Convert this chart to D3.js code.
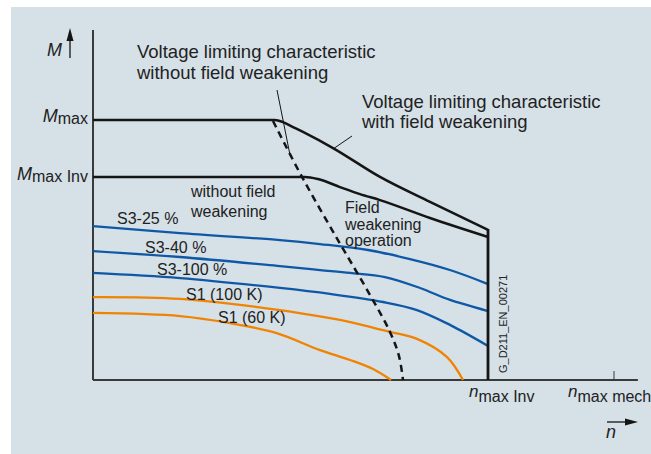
<!DOCTYPE html>
<html>
<head>
<meta charset="utf-8">
<script src="https://cdn.jsdelivr.net/npm/d3@7"></script>
<style>
  html, body { margin: 0; padding: 0; background: #fff; }
  svg { display: block; font-family: "Liberation Sans", Arial, sans-serif; }
</style>
</head>
<body>
<div id="chart"></div>
<script>
// speed n (rpm-like units) and torque M (% of Mmax)
const N_MAX_INV  = 4549;
const N_MAX_MECH = 6000;
const M_MAX      = 100;
const M_MAX_INV  = 78.1;

const fwN = [0, 2096, 2188, 2303, 2418, 2764, 3305, 3881, 4549];
const fwM = [100, 100, 99.2, 97.3, 95.4, 89.2, 78.1, 68.5, 57.7];

const invN = [0, 2441, 2591, 2844, 3075, 3305, 3881, 4549];
const invM = [78.1, 78.1, 77.3, 74.2, 71.5, 69.2, 62.3, 55.0];

const noFwN = [2073, 2407, 2821, 3190, 3420, 3524, 3570];
const noFwM = [99.6, 78.1, 53.8, 32.7, 18.5, 9.2, 0];

const s325N  = [0, 1002, 2153, 2614, 3167, 3651, 4111, 4549];
const s325M  = [59.2, 56.5, 53.8, 52.3, 50.0, 46.5, 42.3, 36.9];
const s340N  = [0, 1002, 2153, 2614, 2960, 3363, 3766, 4111, 4549];
const s340M  = [49.6, 47.3, 43.8, 42.3, 41.2, 39.6, 35.4, 30.8, 26.5];
const s3100N = [0, 1002, 2153, 2729, 3340, 3731, 4111, 4549];
const s3100M = [41.2, 39.2, 35.4, 33.1, 30.0, 26.9, 21.2, 13.1];
const s1100N = [0, 1002, 2153, 2729, 2960, 3420, 3731, 4077, 4261];
const s1100M = [31.9, 31.2, 26.9, 23.8, 22.3, 18.5, 15.8, 8.8, 0];
const s160N  = [0, 1002, 1578, 2107, 2614, 2960, 3225, 3432];
const s160M  = [25.8, 24.6, 21.9, 18.1, 11.5, 7.7, 4.2, 0];

const W = 651, H = 454;
const BLUE = "#0f58a6", ORANGE = "#f08300", INK = "#151515", TXT = "#222";

const x = d3.scaleLinear().domain([0, N_MAX_MECH]).range([93, 614]);
const y = d3.scaleLinear().domain([0, M_MAX]).range([380, 120]);

const zip = (ns, ms) => ns.map((n, i) => [n, ms[i]]);

const svg = d3.select("#chart").append("svg")
  .attr("width", W).attr("height", H)
  .attr("viewBox", [0, 0, W, H]);

svg.append("rect")
  .attr("x", 11).attr("y", 7)
  .attr("width", W - 11).attr("height", H - 7)
  .attr("fill", "#d5e0e7");

const line = d3.line()
  .x(d => x(d[0])).y(d => y(d[1]))
  .curve(d3.curveCatmullRom.alpha(0.5));
const lineMono = d3.line()
  .x(d => x(d[0])).y(d => y(d[1]))
  .curve(d3.curveMonotoneX);

// axes
const xEnd = x(6275), yTop = y(134.6);
svg.append("line")
  .attr("x1", x(0)).attr("x2", xEnd)
  .attr("y1", y(0)).attr("y2", y(0))
  .attr("stroke", "#3a3a3a").attr("stroke-width", 2);
svg.append("line")
  .attr("x1", x(0)).attr("x2", x(0))
  .attr("y1", yTop).attr("y2", y(0))
  .attr("stroke", "#3a3a3a").attr("stroke-width", 2);
svg.append("line")
  .attr("x1", x(N_MAX_MECH)).attr("x2", x(N_MAX_MECH))
  .attr("y1", y(0) - 9).attr("y2", y(0))
  .attr("stroke", "#3a3a3a").attr("stroke-width", 1);

// thermal curves
const curves = [
  { n: s325N,  m: s325M,  c: BLUE },
  { n: s340N,  m: s340M,  c: BLUE },
  { n: s3100N, m: s3100M, c: BLUE },
  { n: s1100N, m: s1100M, c: ORANGE },
  { n: s160N,  m: s160M,  c: ORANGE }
];
svg.append("g").selectAll("path")
  .data(curves)
  .join("path")
  .attr("d", d => line(zip(d.n, d.m)))
  .attr("fill", "none")
  .attr("stroke", d => d.c)
  .attr("stroke-width", 2.3);

// voltage limit curves
svg.append("path")
  .attr("d", lineMono(zip(fwN, fwM)))
  .attr("fill", "none").attr("stroke", INK).attr("stroke-width", 2.5);
svg.append("path")
  .attr("d", lineMono(zip(invN, invM)))
  .attr("fill", "none").attr("stroke", INK).attr("stroke-width", 2.5);
svg.append("line")
  .attr("x1", x(N_MAX_INV)).attr("x2", x(N_MAX_INV))
  .attr("y1", y(fwM[fwM.length - 1]) - 1).attr("y2", y(0))
  .attr("stroke", INK).attr("stroke-width", 2.8);

svg.append("path")
  .attr("d", line(zip(noFwN, noFwM)))
  .attr("fill", "none").attr("stroke", INK)
  .attr("stroke-width", 2.5).attr("stroke-dasharray", "7,5");

// leader lines
svg.append("line")
  .attr("x1", 277).attr("y1", 90).attr("x2", 290).attr("y2", 155)
  .attr("stroke", INK).attr("stroke-width", 1);
svg.append("line")
  .attr("x1", 333).attr("y1", 149).attr("x2", 352).attr("y2", 136)
  .attr("stroke", INK).attr("stroke-width", 1);

// axis arrows
svg.append("line")
  .attr("x1", 70).attr("x2", 70).attr("y1", 38).attr("y2", 58)
  .attr("stroke", INK).attr("stroke-width", 1.3);
svg.append("path")
  .attr("d", "M70,28 L73.5,41 L66.5,41 Z").attr("fill", INK);
svg.append("line")
  .attr("x1", 607).attr("x2", 628).attr("y1", 422).attr("y2", 422)
  .attr("stroke", INK).attr("stroke-width", 1.3);
svg.append("path")
  .attr("d", "M638,422 L625,418.5 L625,425.5 Z").attr("fill", INK);

// text helpers
const txt = (tx, ty, size, anchor) => svg.append("text")
  .attr("x", tx).attr("y", ty)
  .attr("font-size", size)
  .attr("fill", TXT)
  .attr("text-anchor", anchor || "start");

const subLabel = (tx, ty, main, sub, anchor) => {
  const t = txt(tx, ty, 18, anchor);
  t.append("tspan").attr("font-style", "italic").text(main);
  t.append("tspan").attr("font-size", 16).attr("dy", 2).text(sub);
  return t;
};

txt(47, 56, 18).attr("font-style", "italic").text("M");
txt(606, 438, 18).attr("font-style", "italic").text("n");

subLabel(88, y(M_MAX) + 2, "M", "max", "end");
subLabel(88, y(M_MAX_INV) + 3, "M", "max Inv", "end");

const nl1 = txt(x(N_MAX_INV) - 19, 397, 17);
nl1.append("tspan").attr("font-style", "italic").text("n");
nl1.append("tspan").attr("font-size", 16).attr("dy", 5).text("max Inv");
const nl2 = txt(x(N_MAX_MECH) - 46, 397, 17);
nl2.append("tspan").attr("font-style", "italic").text("n");
nl2.append("tspan").attr("font-size", 16).attr("dy", 5).text("max mech");

// annotations
const multi = (tx, ty, size, lh, lines) => {
  const t = txt(tx, ty, size);
  lines.forEach((s, i) => t.append("tspan").attr("x", tx).attr("dy", i ? lh : 0).text(s));
};
multi(137, 58, 18.5, 21, ["Voltage limiting characteristic", "without field weakening"]);
multi(362, 108, 18.5, 20, ["Voltage limiting characteristic", "with field weakening"]);
multi(191, 197, 16, 20, ["without field", "weakening"]);
multi(345, 213, 16, 16.5, ["Field", "weakening", "operation"]);

txt(117, 224, 16).text("S3-25 %");
txt(145, 253, 16).text("S3-40 %");
txt(157, 275, 16).text("S3-100 %");
txt(186, 300, 16).text("S1 (100 K)");
txt(218, 323, 16).text("S1 (60 K)");

svg.append("text")
  .attr("transform", "translate(507,373) rotate(-90)")
  .attr("font-size", 11).attr("fill", TXT)
  .text("G_D211_EN_00271");
</script>
</body>
</html>
